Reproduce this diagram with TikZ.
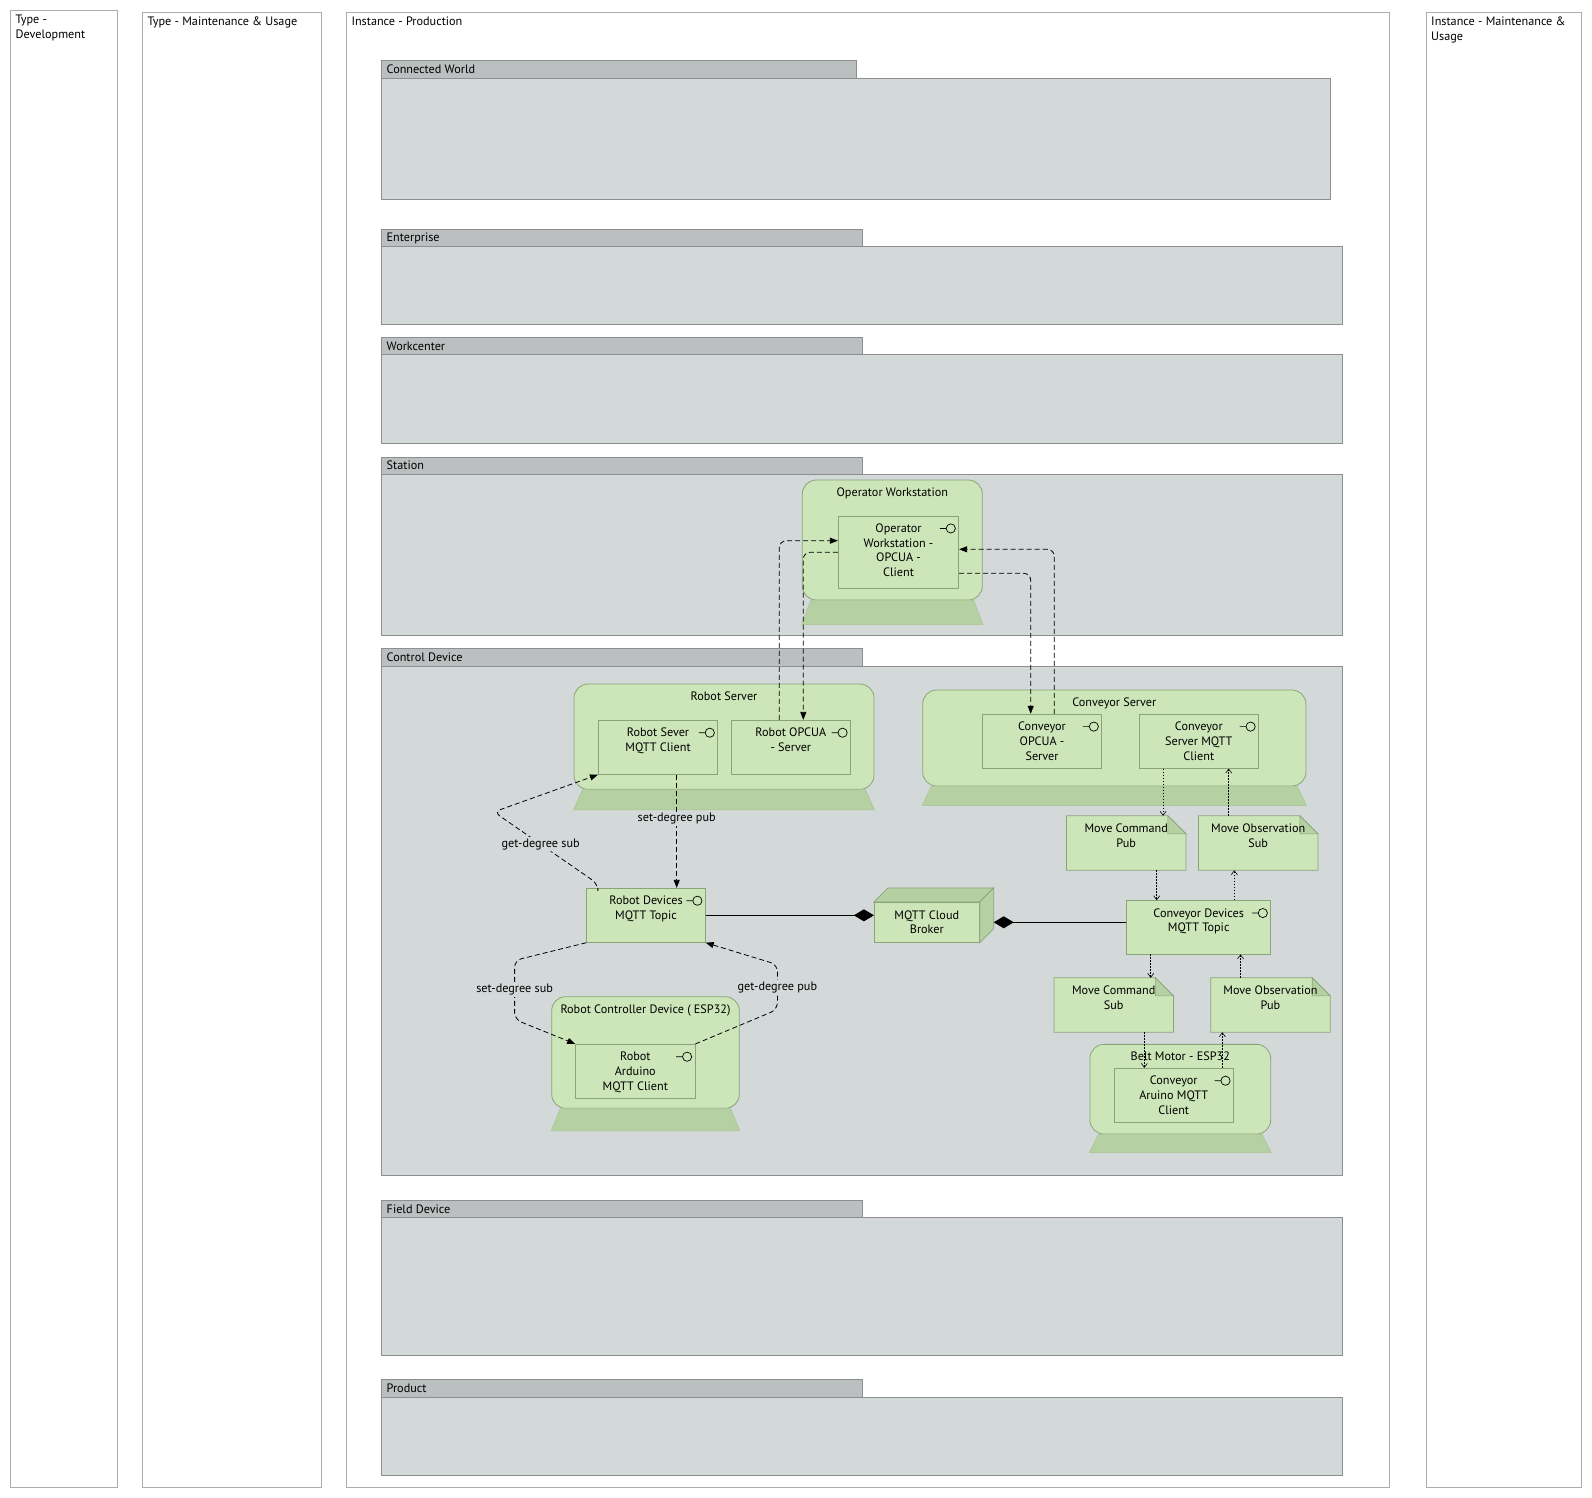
\documentclass[tikz,border=0pt]{standalone}
\usepackage{fontspec}
\setmainfont{PT Sans}
\usetikzlibrary{arrows.meta,positioning,calc}
\definecolor{lanegray}{RGB}{172,172,172}
\definecolor{poolline}{RGB}{140,142,143}
\definecolor{headgray}{RGB}{188,191,192}
\definecolor{bodygray}{RGB}{211,216,216}
\definecolor{devfill}{RGB}{204,230,185}
\definecolor{devline}{RGB}{138,164,122}
\definecolor{basefill}{RGB}{181,208,162}
\newcommand{\lblfont}{\fontsize{12.2}{14.7}\selectfont}
\pgfdeclarelayer{pools}
\pgfdeclarelayer{notes}
\pgfsetlayers{pools,notes,main}
\tikzset{
    lane/.style={draw=lanegray, line width=1pt},
    lanetitle/.style={anchor=north west, align=left, inner sep=0pt, font=\lblfont},
    poolhead/.style={draw=poolline, fill=headgray, line width=0.8pt},
    poolbody/.style={draw=poolline, fill=bodygray, line width=0.8pt},
    pooltitle/.style={anchor=west, inner sep=0pt, font=\lblfont},
    boxtitle/.style={anchor=north, yshift=-8pt, inner sep=0pt, align=center, font=\lblfont},
    device/.style={rectangle, draw=devline, fill=devfill, rounded corners=14pt, line width=0.8pt, inner sep=0pt, label={[boxtitle]north:{#1}}},
    devbase/.style={draw=basefill!85!devline, fill=basefill, line width=0.8pt},
    comp/.style={rectangle, draw=devline, fill=devfill, line width=0.8pt, inner sep=0pt, minimum width=119.4pt, minimum height=54pt, label={[boxtitle]north:{#1}}},
    note/.style={rectangle, inner sep=0pt, minimum width=119pt, minimum height=54pt, label={[boxtitle]north:{#1}}},
    notebody/.style={draw=devline, fill=devfill, line width=0.8pt},
    notefold/.style={draw=devline, fill=basefill, line width=0.6pt},
    comp3d/.style={rectangle, draw=devline, fill=devfill, line width=0.8pt, inner sep=0pt, minimum width=105pt, minimum height=40pt, align=center, font=\lblfont},
    face/.style={draw=devline, fill=basefill, line width=0.8pt},
    lolli/.style={draw=black, fill=devfill, line width=0.7pt},
    msgline/.style={draw, line width=0.8pt, dash pattern=on 5pt off 3pt, rounded corners=7pt, -{Triangle[length=8pt,width=6pt]}},
    mqttline/.style={draw, line width=0.6pt, dash pattern=on 1.6pt off 1.4pt, -{Straight Barb[length=4pt,width=6pt]}},
    link/.style={draw, line width=0.8pt, -{Diamond[length=20pt,width=12pt]}},
    edgelbl/.style={fill=bodygray, inner sep=1.5pt, font=\lblfont}
}
\begin{document}
\begin{tikzpicture}[x=1pt, y=-1pt]
    \useasboundingbox (0,0) rectangle (1592,1498);
    \begin{pgfonlayer}{pools}
    \fill[white] (0,0) rectangle (1592,1498);
    % swimlanes
    \draw[lane] (10.3,10.7) rectangle (117.5,1487);
    \draw[lane] (142.3,12.3) rectangle (321.5,1487);
    \draw[lane] (346.3,12.3) rectangle (1389.5,1487);
    \draw[lane] (1426.3,12.3) rectangle (1581.7,1487);
    % hierarchy levels
    \foreach \t/\y/\hr/\br/\b [count=\i] in {Connected World/60.7/856/1330.3/199.3, Enterprise/229.2/862/1342.3/323.9, Workcenter/337.1/862/1342.3/443.7, Station/456.9/862/1342.3/635.6, Control Device/648.8/862/1342.3/1175.7, Field Device/1200.1/862/1342.3/1355.4, Product/1379.8/862/1342.3/1475.2}{
        \draw[poolbody] (381.8,\y+17.5) rectangle (\br,\b);
        \draw[poolhead] (381.8,\y) rectangle (\hr,\y+17.5);
        \node[pooltitle] (pool-\i) at (386.5,\y+8.75) {\t};
    }
    \end{pgfonlayer}
    \node[lanetitle] (l-tdev) at (15.5,15) {Type -\\Development};
    \node[lanetitle] (l-tmu) at (147.5,16.5) {Type - Maintenance \& Usage};
    \node[lanetitle] (l-iprod) at (351.3,16.5) {Instance - Production};
    \node[lanetitle] (l-imu) at (1431,16.5) {Instance - Maintenance \&\\Usage};

    % devices
    \node[device={Operator Workstation}, minimum width=180pt, minimum height=120pt] (ow) at (892.3,540) {};
    \node[device={Robot Server}, minimum width=300pt, minimum height=105.3pt] (rs) at (724,736.7) {};
    \node[device={Conveyor Server}, minimum width=383.3pt, minimum height=96pt] (cs) at (1114.3,738) {};
    \node[device={Robot Controller Device ( ESP32)}, minimum width=187.6pt, minimum height=111.6pt] (rcd) at (645.5,1052.5) {};
    \node[device={Belt Motor - ESP32}, minimum width=180.7pt, minimum height=89.7pt] (bm) at (1180.3,1089.2) {};
    \foreach \n/\h in {ow/24, rs/20, cs/19, rcd/22, bm/18}
        \filldraw[devbase] ([xshift=9pt]\n.south west) -- ([xshift=-9pt]\n.south east) -- ([yshift=-\h pt]\n.south east) -- ([yshift=-\h pt]\n.south west) -- cycle;

    % components and topics
    \node[comp={Operator\\Workstation -\\OPCUA -\\Client}, minimum width=120.4pt, minimum height=72.3pt] (owc) at (898.5,552.2) {};
    \node[comp={Robot Sever\\MQTT Client}] (rsc) at (658,747.3) {};
    \node[comp={Robot OPCUA\\- Server}, right=12.6pt of rsc] (ros) {};
    \node[comp={Conveyor\\OPCUA -\\Server}] (cos) at (1042,741.2) {};
    \node[comp={Conveyor\\Server MQTT\\Client}, right=36.6pt of cos] (csc) {};
    \node[note={Move Command\\Pub}] (mcp) at (1126.2,843) {};
    \node[note={Move Observation\\Sub}, right=12.6pt of mcp] (mos) {};
    \node[comp={Robot Devices\\MQTT Topic}, minimum width=118.6pt] (rdt) at (646,915.3) {};
    \node[comp3d] (bk) at (926.8,922.3) {MQTT Cloud\\Broker};
    \filldraw[face] (bk.north west) -- ++(14,-14) -- ([xshift=14pt,yshift=14pt]bk.north east) -- (bk.north east) -- cycle;
    \filldraw[face] (bk.north east) -- ++(14,-14) -- ([xshift=14pt,yshift=14pt]bk.south east) -- (bk.south east) -- cycle;
    \node[comp={Conveyor Devices\\MQTT Topic}, minimum width=144pt, minimum height=53.3pt] (cdt) at (1198.7,927.3) {};
    \node[note={Move Command\\Sub}] (mcs) at (1113.7,1005) {};
    \node[note={Move Observation\\Pub}, right=37.4pt of mcs] (mop) {};
    \node[comp={Robot\\Arduino\\MQTT Client}] (rac) at (635.3,1071.3) {};
    \node[comp={Conveyor\\Aruino MQTT\\Client}] (cac) at (1173.7,1095.3) {};

    % note outlines under their texts
    \begin{pgfonlayer}{notes}
    \foreach \n in {mcp,mos,mcs,mop}{
        \filldraw[notebody] (\n.north west) -- ([xshift=-18pt]\n.north east) -- ([yshift=-18pt]\n.north east) -- (\n.south east) -- (\n.south west) -- cycle;
        \filldraw[notefold] ([xshift=-18pt]\n.north east) -- ([xshift=-18pt,yshift=-18pt]\n.north east) -- ([yshift=-18pt]\n.north east) -- cycle;
    }
    \end{pgfonlayer}

    % provided interfaces
    \foreach \n in {owc,rsc,ros,cos,csc,rdt,cdt,rac,cac}
        \draw[lolli] ([xshift=-8.3pt,yshift=-12.8pt]\n.north east) circle (4.6pt) +(-4.6pt,0) -- +(-11pt,0);

    % OPCUA
    \draw[msgline] ([xshift=-11.5pt]ros.north) |- ([yshift=11.5pt]owc.west);
    \draw[msgline] (owc.west) -| ([xshift=12.5pt]ros.north);
    \draw[msgline] ([xshift=12.3pt]cos.north) |- ([yshift=2.9pt]owc.east);
    \draw[msgline] ([yshift=-21.1pt]owc.east) -| ([xshift=-11.3pt]cos.north);

    % robot MQTT
    \draw[msgline] ([xshift=18.7pt]rsc.south) -- ([xshift=18.7pt]rsc.south |- rdt.north) node[edgelbl, pos=0.39] {set-degree pub};
    \draw[msgline] ([xshift=11.6pt]rdt.north west) -- ++(0,-4) -- node[edgelbl, pos=0.55] {get-degree sub} ++(-104,-72) -- (rsc.south west);
    \draw[msgline] (rdt.south west) -- ++(-71.7,17.7) -- node[edgelbl] {set-degree sub} ++(0,59) -- (rac.north west);
    \draw[msgline] (rac.north east) -- ++(82,-34.3) -- node[edgelbl] {get-degree pub} ++(0,-45) -- (rdt.south east);

    % conveyor MQTT
    \draw[mqttline] ([xshift=-35.7pt]csc.south) -- ([xshift=-35.7pt]csc.south |- mcp.north);
    \draw[mqttline] ([xshift=-29.5pt]mos.north) -- ([xshift=-29.5pt]mos.north |- csc.south);
    \draw[mqttline] ([xshift=30.5pt]mcp.south) -- ([xshift=30.5pt]mcp.south |- cdt.north);
    \draw[mqttline] ([xshift=35.6pt]cdt.north) -- ([xshift=35.6pt]cdt.north |- mos.south);
    \draw[mqttline] ([xshift=-48pt]cdt.south) -- ([xshift=-48pt]cdt.south |- mcs.north);
    \draw[mqttline] ([xshift=-30pt]mop.north) -- ([xshift=-30pt]mop.north |- cdt.south);
    \draw[mqttline] ([xshift=30.6pt]mcs.south) -- ([xshift=30.6pt]mcs.south |- cac.north);
    \draw[mqttline] ([xshift=48.6pt]cac.north) -- ([xshift=48.6pt]cac.north |- mop.south);

    % broker
    \draw[link] (rdt.east) -- (rdt.east -| bk.west);
    \coordinate (bkside) at ([xshift=14pt]bk.east);
    \draw[link] (cdt.west |- bkside) -- (bkside);
\end{tikzpicture}
\end{document}
